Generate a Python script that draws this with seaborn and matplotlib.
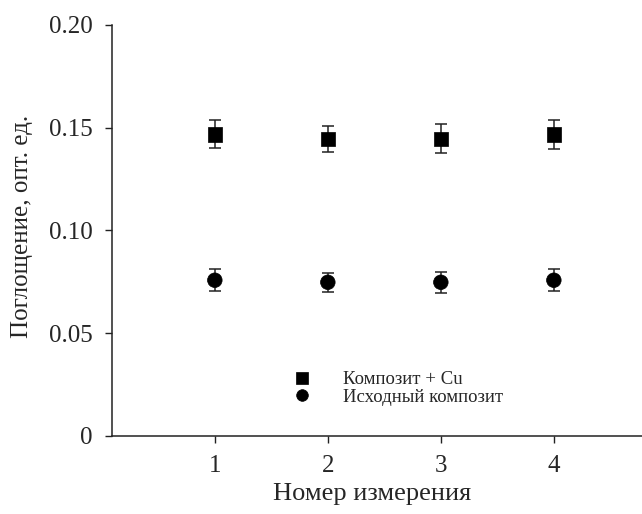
import matplotlib
matplotlib.use("Agg")
import matplotlib.pyplot as plt
import seaborn as sns
import pandas as pd

measurements = [1, 2, 3, 4]
cu_values = [0.1468, 0.1446, 0.1446, 0.1468]
cu_errors = [0.0068, 0.0064, 0.0070, 0.0070]
base_values = [0.0758, 0.0748, 0.0748, 0.0758]
base_errors = [0.0054, 0.0046, 0.0050, 0.0054]
series_names = ["Композит + Cu", "Исходный композит"]
y_ticks = [0, 0.05, 0.10, 0.15, 0.20]
y_tick_labels = ["0", "0.05", "0.10", "0.15", "0.20"]

sns.set_theme(style="ticks")
plt.rcParams["font.family"] = ["Liberation Serif", "DejaVu Serif"]

df = pd.DataFrame({
    "x": measurements * 2,
    "y": cu_values + base_values,
    "err": cu_errors + base_errors,
    "series": [series_names[0]] * 4 + [series_names[1]] * 4,
})

fig = plt.figure(figsize=(6.42, 5.14), dpi=100)
ax = fig.add_axes([112 / 642, 78 / 514, 530 / 642, 411 / 514])

for name in series_names:
    sub = df[df["series"] == name]
    ax.errorbar(sub["x"], sub["y"], yerr=sub["err"], fmt="none",
                ecolor="#222222", elinewidth=1.1, capsize=4.5, capthick=1.1, zorder=2)

sns.scatterplot(data=df, x="x", y="y", style="series", hue="series",
                markers={series_names[0]: "s", series_names[1]: "o"},
                palette={series_names[0]: "black", series_names[1]: "black"},
                s=110, edgecolor="black", linewidth=0.5, ax=ax, zorder=3)

ax.set_xlim(0.09, 4.78)
ax.set_ylim(0, 0.20)
ax.set_xticks(measurements)
ax.set_xticklabels([str(m) for m in measurements])
ax.set_yticks(y_ticks)
ax.set_yticklabels(y_tick_labels)
ax.tick_params(axis="both", labelsize=18, direction="out", length=5, width=1, color="#222222", pad=9)
ax.tick_params(axis="x", pad=9)
for side in ["top", "right"]:
    ax.spines[side].set_visible(False)
for side in ["left", "bottom"]:
    ax.spines[side].set_linewidth(1.1)
    ax.spines[side].set_color("#222222")

ax.set_xlabel("Номер измерения", fontsize=19, labelpad=0)
ax.xaxis.set_label_coords(0.49, -0.115)
ax.set_ylabel("Поглощение, опт. ед.", fontsize=18, labelpad=8)
ax.yaxis.set_label_coords(-0.149, 0.51)

leg = ax.legend(loc="lower left", bbox_to_anchor=(0.291, 0.033), frameon=False,
                fontsize=13.5, handletextpad=1.2, labelspacing=0.0, markerscale=0.8)

fig.savefig("out.png", dpi=100)
